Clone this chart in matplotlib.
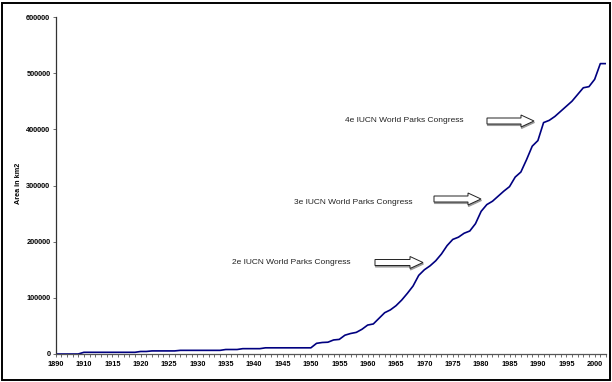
import matplotlib.pyplot as plt
from matplotlib.patches import FancyArrow, Rectangle
from matplotlib.transforms import Affine2D

# ------------------------------------------------------------
# Data: protected area (km2) per category of the time axis
# ------------------------------------------------------------
years = [1890, 1895, 1900, 1905, 1909] + list(range(1910, 2003))

area = [0, 0, 0, 0, 0,
        # 1910-1919
        3000, 3000, 3000, 3000, 3000, 3000, 3000, 3000, 3000, 3000,
        # 1920-1929
        4500, 4500, 5500, 5500, 5500, 5500, 5500, 6500, 6500, 6500,
        # 1930-1939
        6500, 6500, 6500, 6500, 6500, 8000, 8000, 8000, 9500, 9500,
        # 1940-1949
        9500, 9500, 11000, 11000, 11000, 11000, 11000, 11000, 11000, 11000,
        # 1950-1959
        11000, 19000, 20500, 21000, 25000, 26000, 33500, 36500, 38500, 44000,
        # 1960-1969
        51500, 53500, 63500, 73500, 78500, 86000, 96000, 108000, 121000, 140000,
        # 1970-1979
        150000, 157000, 166000, 178000, 193000, 204000, 208000, 215000, 219000, 232000,
        # 1980-1989
        254000, 266000, 272000, 281000, 290000, 298000, 315000, 324000, 346000, 370000,
        # 1990-1999
        380000, 412000, 416000, 423000, 432000, 441000, 450000, 462000, 474000, 476000,
        # 2000-2002
        489000, 517000, 517000]

congress_labels = ["2e IUCN World Parks Congress",
                   "3e IUCN World Parks Congress",
                   "4e IUCN World Parks Congress"]

y_ticks = [0, 100000, 200000, 300000, 400000, 500000, 600000]

plt.rcParams['font.family'] = ['Liberation Sans', 'DejaVu Sans']

W, H = 612, 382
fig = plt.figure(figsize=(W / 100, H / 100), dpi=100)
ax = fig.add_axes([55.5 / W, 1 - 354 / H, (606 - 55.5) / W, (354 - 17) / H])

x = list(range(len(years)))
ax.plot(x, area, color="#000080", linewidth=1.2)

ax.set_xlim(0, len(years) - 1)
ax.set_ylim(0, 600000)

# ------------------------------------------------------------
# Axes styling (Excel-like)
# ------------------------------------------------------------
ax.spines['top'].set_visible(False)
ax.spines['right'].set_visible(False)
ax.spines['left'].set_linewidth(0.9)
ax.spines['bottom'].set_linewidth(0.9)
ax.spines['left'].set_color("#333333")
ax.spines['bottom'].set_color("#555555")

ax.set_xticks(x)
ax.set_xticklabels([str(y) if i % 5 == 0 else "" for i, y in enumerate(years)])
ax.set_yticks(y_ticks)
ax.set_yticklabels([str(v) for v in y_ticks])
ax.tick_params(axis='x', direction='out', length=2.2, width=0.6, pad=3,
               labelsize=5.3, colors="#555555", labelcolor="black")
ax.tick_params(axis='y', direction='out', length=2.2, width=0.6, pad=1.5,
               labelsize=5.3, colors="#555555", labelcolor="black")
for lab in ax.get_xticklabels() + ax.get_yticklabels():
    lab.set_fontweight('bold')

fig.text(18 / W, 1 - 183 / H, "Area in km2", rotation=90, ha='center',
         va='center', fontsize=5.2, fontweight='bold')

# ------------------------------------------------------------
# Congress annotations with hollow block arrows
# ------------------------------------------------------------
px = Affine2D().scale(1 / W, 1 / H) + fig.transFigure

text_pos = [(291.5, 263), (353, 203), (404, 120)]
arrow_pos = [(375, 423, 262.5), (434, 481, 199), (487, 534, 121)]

for label, (tx, ty) in zip(congress_labels, text_pos):
    fig.text(tx / W, 1 - ty / H, label, ha='center', va='center',
             fontsize=6.0, color="#222222")

for x0, x1, yc in arrow_pos:
    shadow = FancyArrow(x0 + 0.5, H - yc - 1.5, x1 - x0, 0, width=6, head_width=12,
                        head_length=13, length_includes_head=True,
                        fc="#999999", ec="#999999", lw=0.8, transform=px)
    arrow = FancyArrow(x0, H - yc, x1 - x0, 0, width=6, head_width=12,
                       head_length=13, length_includes_head=True,
                       fc="white", ec="#222222", lw=0.7, transform=px)
    fig.add_artist(shadow)
    fig.add_artist(arrow)

# figure border
fig.add_artist(Rectangle((1.5 / W, 2.5 / H), (W - 4) / W, (H - 5) / H,
                         transform=fig.transFigure, fill=False,
                         edgecolor="black", linewidth=1.4))

fig.savefig("out.png", dpi=100)
